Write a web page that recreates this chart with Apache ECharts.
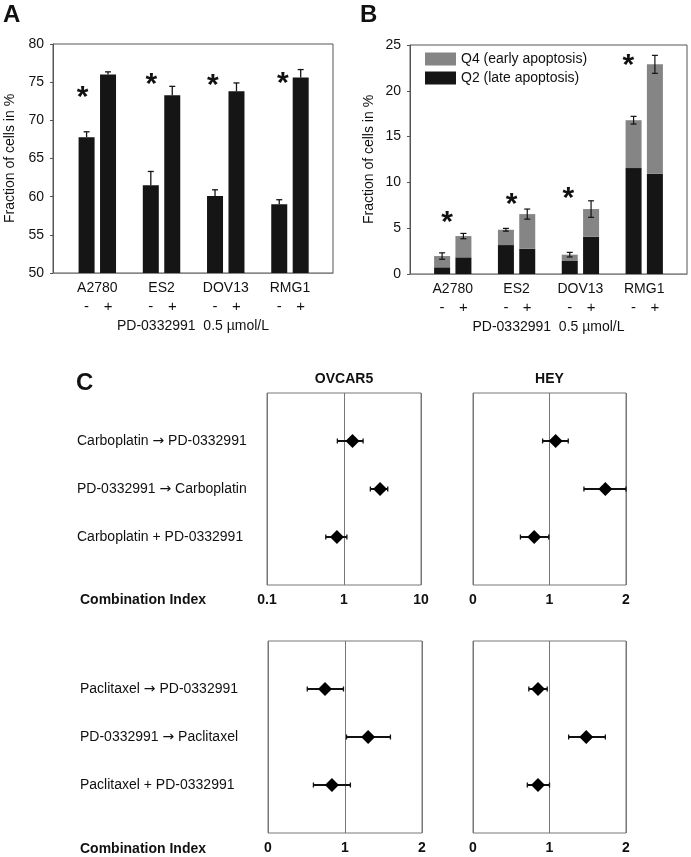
<!DOCTYPE html>
<html><head><meta charset="utf-8">
<script src="https://cdn.jsdelivr.net/npm/echarts@6/dist/echarts.min.js"></script>
<style>html,body{margin:0;padding:0;background:#fff}#c{width:691px;height:857px}</style>
</head><body><div id="c"></div><script>
// ---------- data ----------
const cellLines = ['A2780', 'ES2', 'DOV13', 'RMG1'];
const treatLabels = ['-', '+'];
// Panel A: fraction of cells (%)
const aMinus = [67.8, 61.5, 60.1, 59.0];
const aPlus = [76.0, 73.3, 73.8, 75.6];
const aErrMinus = [0.7, 1.8, 0.8, 0.6];
const aErrPlus = [0.35, 1.15, 1.1, 1.05];
const aStarY = [73.6, 75.3, 75.2, 75.5];
// Panel B: apoptosis (%)
const q2Minus = [0.73, 3.16, 1.42, 11.56];
const q2Plus = [1.82, 2.76, 4.07, 10.94];
const q4Minus = [1.23, 1.67, 0.69, 5.23];
const q4Plus = [2.32, 3.78, 3.02, 11.95];
const bErrMinus = [0.35, 0.15, 0.25, 0.42];
const bErrPlus = [0.29, 0.55, 0.9, 0.98];
const bStarY = [6.1, 8.1, 8.8, 23.3];
// Panel C: combination index
const carboRows = ['Carboplatin \u2192 PD-0332991', 'PD-0332991 \u2192 Carboplatin', 'Carboplatin + PD-0332991'];
const paclRows = ['Paclitaxel \u2192 PD-0332991', 'PD-0332991 \u2192 Paclitaxel', 'Paclitaxel + PD-0332991'];
const ovcar5Carbo = [1.29, 2.94, 0.81];
const ovcar5CarboLo = [0.82, 2.2, 0.58];
const ovcar5CarboHi = [1.77, 3.7, 1.09];
const heyCarbo = [1.08, 1.73, 0.80];
const heyCarboLo = [0.91, 1.45, 0.62];
const heyCarboHi = [1.245, 2.0, 0.99];
const ovcar5Pacl = [0.74, 1.30, 0.83];
const ovcar5PaclLo = [0.51, 1.02, 0.59];
const ovcar5PaclHi = [0.98, 1.59, 1.07];
const heyPacl = [0.85, 1.48, 0.85];
const heyPaclLo = [0.73, 1.25, 0.71];
const heyPaclHi = [0.97, 1.73, 1.0];

// ---------- layout ----------
const FONT = "'Liberation Sans', Arial, Helvetica, sans-serif";
const PAIR = 0.167;
const aStarOff = [-0.23, -0.16, -0.2, -0.11];
const bStarOff = [-0.09, -0.08, -0.19, -0.25];
const BAR_W = 16;
const TXT = '#111';

const chart = echarts.init(document.getElementById('c'), null, {renderer: 'canvas'});

const pairVals = cellLines.flatMap((_, i) => [i - PAIR, i + PAIR]);
const pmFmt = v => treatLabels[(v - Math.round(v)) < 0 ? 0 : 1];
const catFmt = v => cellLines[Math.round(v)];

function catAxes(grid, min, max) {
  return [
    {gridIndex: grid, type: 'value', min: min, max: max, position: 'bottom',
     axisLine: {show: true, onZero: false, lineStyle: {color: '#888', width: 1}},
     axisTick: {show: false}, splitLine: {show: false},
     axisLabel: {customValues: [0, 1, 2, 3], formatter: catFmt, fontSize: 14, color: TXT, fontFamily: FONT, margin: 8}},
    {gridIndex: grid, type: 'value', min: min, max: max, position: 'bottom', offset: 18,
     axisLine: {show: false, onZero: false}, axisTick: {show: false}, splitLine: {show: false},
     axisLabel: {customValues: pairVals, formatter: pmFmt, fontSize: 15, color: TXT, fontFamily: FONT, margin: 8},
     name: 'PD-0332991  0.5 \u00b5mol/L', nameLocation: 'middle', nameGap: 28,
     nameTextStyle: {fontSize: 14, color: TXT, fontFamily: FONT}}
  ];
}
function ciAxis(grid, log) {
  const ax = {gridIndex: grid, position: 'bottom',
    axisLine: {show: false, onZero: false}, axisTick: {show: false},
    splitLine: {show: true, lineStyle: {color: '#777', width: 1}},
    axisLabel: {fontSize: 14, fontWeight: 'bold', color: TXT, fontFamily: FONT, margin: 8}};
  if (log) Object.assign(ax, {type: 'log', logBase: 10, min: 0.1, max: 10});
  else Object.assign(ax, {type: 'value', min: 0, max: 2, interval: 1});
  return ax;
}
function rowFmt(rows) {
  return v => {
    const s = rows[Math.round(v) - 1];
    if (!s) return '';
    const parts = s.split(' \u2192 ');
    return parts.length > 1 ? '{t|' + parts[0] + ' }{a|\u2192}{t| ' + parts[1] + '}' : '{t|' + s + '}';
  };
}
function rowAxis(grid, rows, margin) {
  return {gridIndex: grid, type: 'value', min: 0, max: 4, inverse: true,
    axisLine: {show: false, onZero: false}, axisTick: {show: false}, splitLine: {show: false},
    axisLabel: {customValues: [1, 2, 3], formatter: rowFmt(rows),
      align: 'left', margin: margin, fontSize: 14, color: TXT, fontFamily: FONT,
      rich: {t: {fontSize: 14, color: TXT, fontFamily: FONT},
             a: {fontSize: 14, color: TXT, fontFamily: "'Noto Sans', 'DejaVu Sans', sans-serif"}}}};
}
function valAxis(grid, min, max, gap) {
  return {gridIndex: grid, type: 'value', min: min, max: max, interval: 5,
    axisLine: {show: true, onZero: false, lineStyle: {color: '#555'}},
    axisTick: {show: true, length: 3, lineStyle: {color: '#555'}},
    splitLine: {show: false},
    axisLabel: {fontSize: 14, color: TXT, fontFamily: FONT, margin: 9},
    name: 'Fraction of cells in %', nameLocation: 'middle', nameGap: gap,
    nameTextStyle: {fontSize: 14, color: TXT, fontFamily: FONT}};
}

// bars A
const aData = [];
cellLines.forEach((_, i) => {
  aData.push([i - PAIR, aMinus[i], aErrMinus[i]]);
  aData.push([i + PAIR, aPlus[i], aErrPlus[i]]);
});
const bQ2 = [], bQ4 = [], bErr = [];
cellLines.forEach((_, i) => {
  bQ2.push([i - PAIR, q2Minus[i]]); bQ2.push([i + PAIR, q2Plus[i]]);
  bQ4.push([i - PAIR, q2Minus[i], q4Minus[i]]); bQ4.push([i + PAIR, q2Plus[i], q4Plus[i]]);
  bErr.push([i - PAIR, q2Minus[i] + q4Minus[i], bErrMinus[i]]);
  bErr.push([i + PAIR, q2Plus[i] + q4Plus[i], bErrPlus[i]]);
});

function starSeries(xi, yi, ys, offs) {
  return {type: 'custom', xAxisIndex: xi, yAxisIndex: yi, silent: true, z: 5,
    data: ys.map((y, i) => [i + offs[i], y]),
    renderItem: (params, api) => {
      const p = api.coord([api.value(0), api.value(1)]);
      return {type: 'text', x: p[0], y: p[1] + 5,
        style: {text: '*', fontSize: 30, fontWeight: 'bold', fontFamily: FONT, fill: '#111', align: 'center', verticalAlign: 'middle'}};
    }};
}

function ciSeries(xi, yi, vals, lo, hi) {
  return [
    {type: 'custom', xAxisIndex: xi, yAxisIndex: yi, silent: true, z: 3,
     data: vals.map((v, i) => [lo[i], i + 1, hi[i]]),
     renderItem: (params, api) => {
       const a = api.coord([api.value(0), api.value(1)]);
       const b = api.coord([api.value(2), api.value(1)]);
       const st = {stroke: '#111', lineWidth: 2};
       const cs = {stroke: '#111', lineWidth: 1.3};
       return {type: 'group', children: [
         {type: 'line', shape: {x1: a[0], y1: a[1], x2: b[0], y2: b[1]}, style: st},
         {type: 'line', shape: {x1: a[0], y1: a[1] - 2.5, x2: a[0], y2: a[1] + 2.5}, style: cs},
         {type: 'line', shape: {x1: b[0], y1: b[1] - 2.5, x2: b[0], y2: b[1] + 2.5}, style: cs}
       ]};
     }},
    {type: 'scatter', xAxisIndex: xi, yAxisIndex: yi, silent: true, z: 4,
     symbol: 'diamond', symbolSize: [14, 14], itemStyle: {color: '#000', opacity: 1},
     data: vals.map((v, i) => [v, i + 1])}
  ];
}

const option = {
  animation: false,
  backgroundColor: '#fff',
  textStyle: {fontFamily: FONT},
  grid: [
    {left: 53, top: 44, width: 280, height: 229, show: true, borderColor: '#555', borderWidth: 1},
    {left: 410, top: 45, width: 277, height: 229, show: true, borderColor: '#555', borderWidth: 1},
    {left: 267, top: 393, width: 154, height: 192, show: true, borderColor: '#777', borderWidth: 1},
    {left: 473, top: 393, width: 153, height: 192, show: true, borderColor: '#777', borderWidth: 1},
    {left: 268, top: 641, width: 154, height: 192, show: true, borderColor: '#777', borderWidth: 1},
    {left: 473, top: 641, width: 153, height: 192, show: true, borderColor: '#777', borderWidth: 1}
  ],
  xAxis: [
    ...catAxes(0, -0.69, 3.67),
    ...catAxes(1, -0.67, 3.67),
    ciAxis(2, true), ciAxis(3, false), ciAxis(4, false), ciAxis(5, false)
  ],
  yAxis: [
    valAxis(0, 50, 80, 36),
    valAxis(1, 0, 25, 34),
    rowAxis(2, carboRows, 190), rowAxis(3, [], 0), rowAxis(4, paclRows, 188), rowAxis(5, [], 0)
  ],
  legend: {left: 425, top: 52, orient: 'vertical', itemWidth: 31, itemHeight: 13, itemGap: 5, padding: 0,
    icon: 'rect', selectedMode: false,
    textStyle: {fontSize: 14, color: TXT, fontFamily: FONT},
    data: [{name: 'Q4 (early apoptosis)', itemStyle: {color: '#858585'}}, {name: 'Q2 (late apoptosis)', itemStyle: {color: '#151515'}}]},
  graphic: [
    {type: 'text', left: 3, top: 3, style: {text: 'A', fontSize: 24, fontWeight: 'bold', fontFamily: FONT, fill: '#111'}},
    {type: 'text', left: 360, top: 3, style: {text: 'B', fontSize: 24, fontWeight: 'bold', fontFamily: FONT, fill: '#111'}},
    {type: 'text', left: 76, top: 371, style: {text: 'C', fontSize: 24, fontWeight: 'bold', fontFamily: FONT, fill: '#111'}},
    {type: 'text', x: 344, y: 379, style: {text: 'OVCAR5', fontSize: 14, fontWeight: 'bold', fontFamily: FONT, fill: '#111', align: 'center', verticalAlign: 'middle'}},
    {type: 'text', x: 549.5, y: 379, style: {text: 'HEY', fontSize: 14, fontWeight: 'bold', fontFamily: FONT, fill: '#111', align: 'center', verticalAlign: 'middle'}},
    {type: 'text', x: 80, y: 600, style: {text: 'Combination Index', fontSize: 14, fontWeight: 'bold', fontFamily: FONT, fill: '#111', align: 'left', verticalAlign: 'middle'}},
    {type: 'text', x: 80, y: 849, style: {text: 'Combination Index', fontSize: 14, fontWeight: 'bold', fontFamily: FONT, fill: '#111', align: 'left', verticalAlign: 'middle'}}
  ],
  series: [
    {type: 'custom', name: 'A', xAxisIndex: 0, yAxisIndex: 0, silent: true, z: 3, data: aData,
     renderItem: (params, api) => {
       const x = api.value(0), v = api.value(1), e = api.value(2);
       const p = api.coord([x, v]), b = api.coord([x, 50]), t = api.coord([x, v + e]);
       return {type: 'group', children: [
         {type: 'rect', shape: {x: p[0] - BAR_W / 2, y: p[1], width: BAR_W, height: b[1] - p[1]}, style: {fill: '#151515'}},
         {type: 'line', shape: {x1: p[0], y1: p[1], x2: t[0], y2: t[1]}, style: {stroke: '#151515', lineWidth: 1.3}},
         {type: 'line', shape: {x1: t[0] - 3, y1: t[1], x2: t[0] + 3, y2: t[1]}, style: {stroke: '#151515', lineWidth: 1.3}}
       ]};
     }},
    starSeries(0, 0, aStarY, aStarOff),
    {type: 'custom', name: 'Q2 (late apoptosis)', xAxisIndex: 2, yAxisIndex: 1, silent: true, z: 3, data: bQ2,
     itemStyle: {color: '#151515'},
     renderItem: (params, api) => {
       const x = api.value(0);
       const p = api.coord([x, api.value(1)]), b = api.coord([x, 0]);
       return {type: 'rect', shape: {x: p[0] - BAR_W / 2, y: p[1], width: BAR_W, height: b[1] - p[1]}, style: {fill: '#151515'}};
     }},
    {type: 'custom', name: 'Q4 (early apoptosis)', xAxisIndex: 2, yAxisIndex: 1, silent: true, z: 3, data: bQ4,
     itemStyle: {color: '#858585'},
     renderItem: (params, api) => {
       const x = api.value(0), lo = api.value(1), h = api.value(2);
       const p = api.coord([x, lo + h]), b = api.coord([x, lo]);
       return {type: 'rect', shape: {x: p[0] - BAR_W / 2, y: p[1], width: BAR_W, height: b[1] - p[1]}, style: {fill: '#858585'}};
     }},
    {type: 'custom', xAxisIndex: 2, yAxisIndex: 1, silent: true, z: 4, data: bErr,
     renderItem: (params, api) => {
       const x = api.value(0), v = api.value(1), e = api.value(2);
       const t = api.coord([x, v + e]), d = api.coord([x, v - e]);
       const st = {stroke: '#111', lineWidth: 1.2};
       return {type: 'group', children: [
         {type: 'line', shape: {x1: t[0], y1: t[1], x2: d[0], y2: d[1]}, style: st},
         {type: 'line', shape: {x1: t[0] - 3, y1: t[1], x2: t[0] + 3, y2: t[1]}, style: st},
         {type: 'line', shape: {x1: d[0] - 3, y1: d[1], x2: d[0] + 3, y2: d[1]}, style: st}
       ]};
     }},
    starSeries(2, 1, bStarY, bStarOff),
    ...ciSeries(4, 2, ovcar5Carbo, ovcar5CarboLo, ovcar5CarboHi),
    ...ciSeries(5, 3, heyCarbo, heyCarboLo, heyCarboHi),
    ...ciSeries(6, 4, ovcar5Pacl, ovcar5PaclLo, ovcar5PaclHi),
    ...ciSeries(7, 5, heyPacl, heyPaclLo, heyPaclHi)
  ]
};
chart.setOption(option);
</script></body></html>
